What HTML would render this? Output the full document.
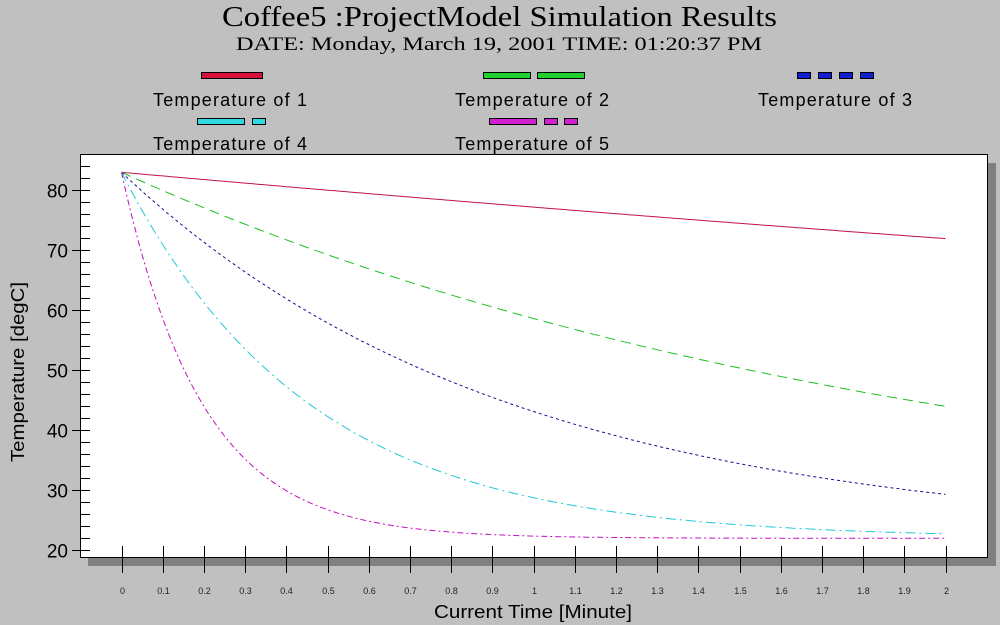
<!DOCTYPE html>
<html><head><meta charset="utf-8"><style>
body{margin:0;background:#c0c0c0;width:1000px;height:625px;overflow:hidden}
svg{display:block}
</style></head><body>
<svg id="s" width="1000" height="625" xmlns="http://www.w3.org/2000/svg">
<rect width="1000" height="625" fill="#c0c0c0"/>
<text x="222" y="26" textLength="555" lengthAdjust="spacingAndGlyphs" font-family="Liberation Serif" font-size="28">Coffee5 :ProjectModel Simulation Results</text>
<text x="236" y="50" textLength="526" lengthAdjust="spacingAndGlyphs" font-family="Liberation Serif" font-size="19">DATE: Monday, March 19, 2001  TIME: 01:20:37 PM</text>
<g stroke="#000" stroke-width="1">
<rect x="201.5" y="72.5" width="61" height="6" fill="#d8103c"/>
<rect x="483.5" y="72.5" width="47" height="6" fill="#20d030"/>
<rect x="537.5" y="72.5" width="47" height="6" fill="#20d030"/>
<rect x="797.5" y="72.5" width="13" height="6" fill="#1020d0"/>
<rect x="818.5" y="72.5" width="13" height="6" fill="#1020d0"/>
<rect x="839.5" y="72.5" width="13" height="6" fill="#1020d0"/>
<rect x="860.5" y="72.5" width="13" height="6" fill="#1020d0"/>
<rect x="197.5" y="118.5" width="47" height="6" fill="#30d8e0"/>
<rect x="252.5" y="118.5" width="13" height="6" fill="#30d8e0"/>
<rect x="489.5" y="118.5" width="47" height="6" fill="#d020d0"/>
<rect x="544.5" y="118.5" width="13" height="6" fill="#d020d0"/>
<rect x="564.5" y="118.5" width="13" height="6" fill="#d020d0"/>
</g>
<g font-family="Liberation Sans" font-size="18" lengthAdjust="spacingAndGlyphs">
<text x="153" y="106" textLength="154">Temperature of 1</text>
<text x="455" y="106" textLength="154">Temperature of 2</text>
<text x="758" y="106" textLength="154">Temperature of 3</text>
<text x="153" y="150" textLength="154">Temperature of 4</text>
<text x="455" y="150" textLength="154">Temperature of 5</text>
</g>
<rect x="88" y="163" width="908" height="403" fill="#808080"/>
<rect x="80.5" y="154.5" width="907" height="403" fill="#fff" stroke="#000"/>
<g id="ax" stroke="#000" stroke-width="1"></g>
<g id="lab" font-family="Liberation Sans" font-size="19" text-anchor="end"></g>
<g id="xl" font-family="Liberation Sans" font-size="9" text-anchor="middle" fill="#222"></g>
<g id="ser" fill="none" stroke-width="1"></g>
<text x="434" y="618" textLength="198" lengthAdjust="spacingAndGlyphs" font-family="Liberation Sans" font-size="18">Current Time [Minute]</text>
<text transform="translate(24,462) rotate(-90)" textLength="180" lengthAdjust="spacingAndGlyphs" font-family="Liberation Sans" font-size="18">Temperature [degC]</text>
</svg>
<script>
var NS="http://www.w3.org/2000/svg";
function el(p,t,a,txt){var e=document.createElementNS(NS,t);for(var k in a)e.setAttribute(k,a[k]);if(txt!=null)e.textContent=txt;document.getElementById(p).appendChild(e);}
function Y(v){return 550.3-(v-20)*6;}
function X(t){return 121.5+t*412;}
for(var v=20;v<=84;v+=2){var y=Math.round(Y(v))+0.5;var maj=v%10==0;el("ax","line",{x1:maj?72:80,x2:90,y1:y,y2:y});if(maj)el("lab","text",{x:68,y:y+7},v);}
for(var i=0;i<=20;i++){var x=Math.round(X(i/10))+0.5;el("ax","line",{x1:x,x2:x,y1:546,y2:573});el("xl","text",{x:x,y:594},i==0?"0":i%10==0?(i/10)+"":(i/10).toFixed(1));}
var S=[[0.1,"#c0104a",""],[0.51,"#20c020","10 6"],[1.06,"#101090","3 3"],[2.2,"#20c8d8","10 4 2 4"],[5.1,"#c010c0","6 3 2 3"]];
S.forEach(function(s){var d="";for(var j=0;j<=200;j++){var t=j/100;var v=22+61*Math.exp(-s[0]*t);d+=(j?"L":"M")+X(t).toFixed(1)+" "+Y(v).toFixed(1);}var a={d:d,stroke:s[1]};if(s[2])a["stroke-dasharray"]=s[2];el("ser","path",a);});
</script>
</body></html>
